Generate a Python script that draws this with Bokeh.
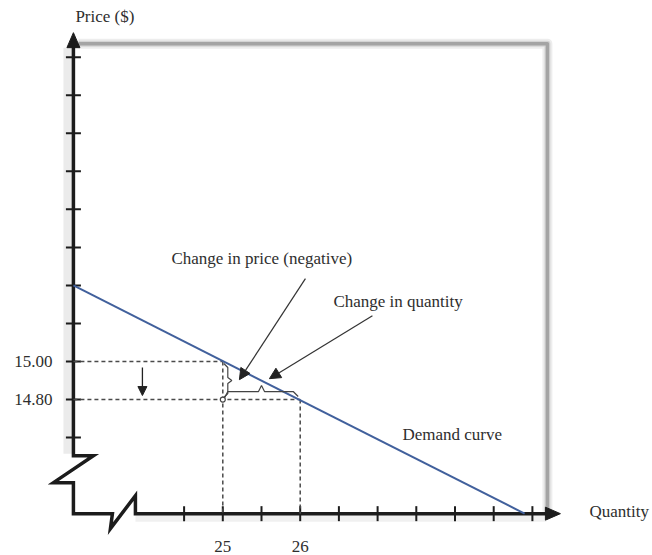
import math
from bokeh.plotting import figure
from bokeh.models import Arrow, NormalHead
from bokeh.core.properties import value
from bokeh.embed import file_html
from bokeh.resources import INLINE

# ---------------- data ----------------
demand_q = [23.07, 28.90]
demand_p = [15.40, 14.20]
change_q = [25, 26]          # quantity before / after
change_p = [15.00, 14.80]    # price before / after
price_ticks = [14.6, 14.8, 15.0, 15.2, 15.4, 15.6, 15.8, 16.0, 16.2, 16.4, 16.6]
price_tick_labels = {14.8: "14.80", 15.0: "15.00"}
quantity_ticks = [24.5, 25, 25.5, 26, 26.5, 27, 27.5, 28, 28.5, 29]
quantity_tick_labels = {25: "25", 26: "26"}
axis_origin_q = 23.07
axis_origin_p = 14.20

# ---------------- layout ----------------
W, H = 652, 555
PXQ, PXP = 77.4, 190.2           # pixels per unit of quantity / price
ANCHOR_X, ANCHOR_Y = 222.3, 361  # canvas pixel of (25, 15.00)
x_start = change_q[0] - ANCHOR_X / PXQ
y_end = change_p[0] + ANCHOR_Y / PXP
x_range = (x_start, x_start + W / PXQ)
y_range = (y_end - H / PXP, y_end)

q0, p0 = axis_origin_q, axis_origin_p


def oq(dx):  # pixel offset -> quantity relative to axis origin
    return q0 + dx / PXQ


def op(dy):  # pixel offset (down positive) -> price relative to axis origin
    return p0 - dy / PXP


FONT = value("Liberation Serif")
TXT = "#2e2e2e"
AX = "#1c1c1c"

p = figure(width=W, height=H, x_range=x_range, y_range=y_range,
           output_backend="svg", toolbar_location=None, min_border=0,
           x_axis_location=None, y_axis_location=None)
p.grid.visible = False
p.outline_line_color = None

# gray drop-shadow frame (top and right)
frame_x = [oq(5), oq(474), oq(474)]
frame_y = [op(-470), op(-470), op(-2)]
p.line(frame_x, frame_y, line_color="#000000", line_alpha=0.07, line_width=10, line_join="round")
p.line(frame_x, frame_y, line_color="#000000", line_alpha=0.10, line_width=6, line_join="round")
p.line(frame_x, frame_y, line_color="#a4a4a4", line_width=3.5, line_join="round")

# axis shadows
p.line([oq(-5), oq(-5)], [op(-466), op(-60)], line_color="#000", line_alpha=0.08, line_width=10)
p.line([oq(62), oq(473)], [op(4), op(4)], line_color="#000", line_alpha=0.06, line_width=8)

# axes with breaks
ax_px = [(0, -468), (0, -58), (20, -58), (-20, -31), (0, -31), (0, 0), (39, 0),
         (37, 15), (62, -18), (62, 0), (474, 0)]
p.line([oq(a) for a, b in ax_px], [op(b) for a, b in ax_px],
       line_color=AX, line_width=3.5, line_join="miter")
# arrow heads
p.patch([oq(0), oq(-6.5), oq(6.5)], [op(-481), op(-466), op(-466)], fill_color=AX, line_color=AX)
p.patch([oq(487), oq(472), oq(472)], [op(0), op(-6.5), op(6.5)], fill_color=AX, line_color=AX)

# tick marks
p.scatter([q0] * len(price_ticks), price_ticks, marker="dash", size=15,
          line_color=AX, line_width=2)
p.scatter(quantity_ticks, [p0] * len(quantity_ticks), marker="dash", size=15,
          angle=math.pi / 2, line_color=AX, line_width=2)

# tick labels
pl = list(price_tick_labels.keys())
p.text([q0] * len(pl), pl, text=[price_tick_labels[k] for k in pl], x_offset=-21,
       text_align="right", text_baseline="middle", text_font=FONT,
       text_font_size="17px", text_color=TXT)
ql = list(quantity_tick_labels.keys())
p.text(ql, [p0] * len(ql), text=[quantity_tick_labels[k] for k in ql], y_offset=33,
       text_align="center", text_baseline="middle", text_font=FONT,
       text_font_size="17px", text_color=TXT)

# dashed guides
DASH = dict(line_color="#4a4a4a", line_width=1.5, line_dash="4 3")
p.multi_line(xs=[[q0, change_q[0]], [q0, change_q[1]],
                 [change_q[0], change_q[0]], [change_q[1], change_q[1]]],
             ys=[[change_p[0], change_p[0]], [change_p[1], change_p[1]],
                 [change_p[0], p0], [change_p[1], p0]], **DASH)

# demand curve
p.line(demand_q, demand_p, line_color="#41609c", line_width=2)

# braces
qa, qb = change_q
pa, pb = change_p
hb_x = [qa + 2 / PXQ, qa + 5 / PXQ, (qa + qb) / 2 - 3 / PXQ, (qa + qb) / 2,
        (qa + qb) / 2 + 3 / PXQ, qb - 7 / PXQ, qb - 2 / PXQ]
hb_y = [pb + 2 / PXP, pb + 8 / PXP, pb + 8 / PXP, pb + 14 / PXP,
        pb + 8 / PXP, pb + 8 / PXP, pb + 3 / PXP]
p.line(hb_x, hb_y, line_color="#444", line_width=1.2)
vb_x = [qa + 1 / PXQ, qa + 5 / PXQ, qa + 5 / PXQ, qa + 9 / PXQ, qa + 5 / PXQ, qa + 5 / PXQ, qa + 1 / PXQ]
vb_y = [pa - 2 / PXP, pa - 6 / PXP, pa - 16 / PXP, pa - 19 / PXP, pa - 22 / PXP, pa - 32 / PXP, pa - 36 / PXP]
p.line(vb_x, vb_y, line_color="#444", line_width=1.2)
p.scatter([qa], [pb], size=5, fill_color="white", line_color="#444", line_width=1.2)

# direction arrows
small = dict(line_color="#222", line_width=1.3)
p.add_layout(Arrow(end=NormalHead(size=9, fill_color="#222", line_color="#222"),
                   x_start=oq(69), y_start=pa - 6 / PXP, x_end=oq(69), y_end=pb + 4 / PXP, **small))
p.add_layout(Arrow(end=NormalHead(size=10, fill_color="#222", line_color="#222"),
                   x_start=qa + 14 / PXQ, y_start=op(50), x_end=qb - 6 / PXQ, y_end=op(50), **small))

# callout arrows
p.add_layout(Arrow(end=NormalHead(size=11, fill_color="#222", line_color="#222"),
                   x_start=oq(232), y_start=op(-235), x_end=oq(166), y_end=op(-134),
                   line_color="#333", line_width=1.2))
p.add_layout(Arrow(end=NormalHead(size=11, fill_color="#222", line_color="#222"),
                   x_start=oq(299), y_start=op(-198), x_end=oq(196), y_end=op(-135),
                   line_color="#333", line_width=1.2))

# texts
labels = [("Price ($)", oq(2), op(-497)),
          ("Quantity", oq(516), op(-2)),
          ("Demand curve", oq(329), op(-79)),
          ("Change in price (negative)", oq(98), op(-255)),
          ("Change in quantity", oq(260), op(-212))]
p.text([l[1] for l in labels], [l[2] for l in labels], text=[l[0] for l in labels],
       text_align="left", text_baseline="middle", text_font=FONT,
       text_font_size="17px", text_color=TXT)

open("out.html", "w").write(file_html(p, INLINE))
